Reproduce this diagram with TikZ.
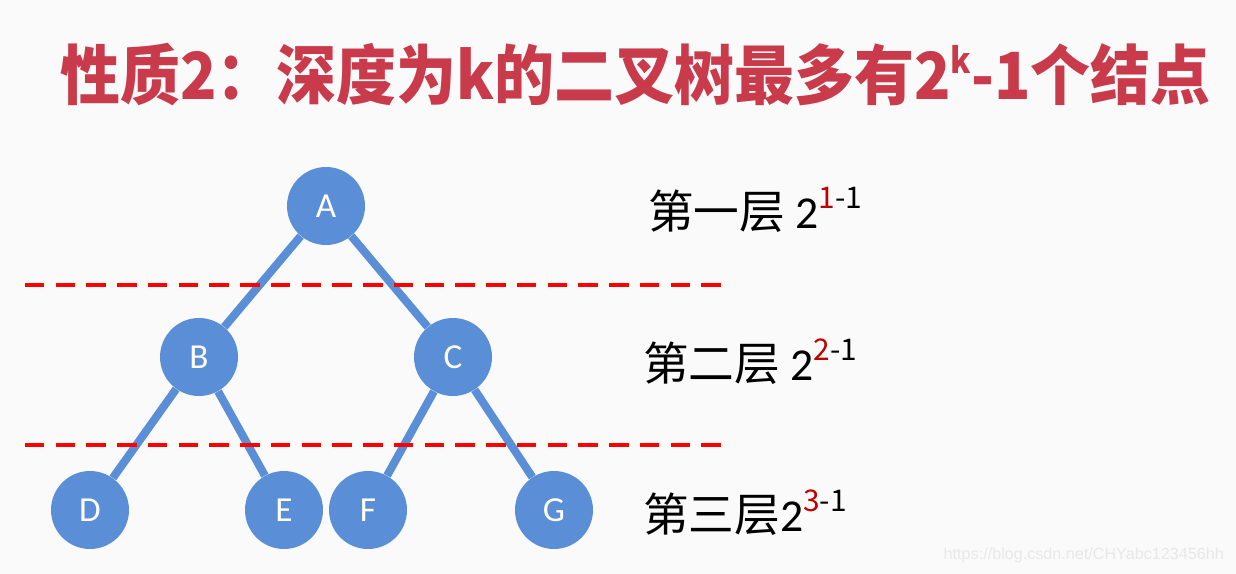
\documentclass[tikz,border=0pt]{standalone}
\usepackage{fontspec}
\usepackage{xcolor}
\usepackage{tikz}
\usetikzlibrary{positioning}
\setmainfont{Carlito}
\newfontfamily\cjk{Noto Sans CJK SC}
\newfontfamily\webfont{Liberation Sans}
\definecolor{nodeblue}{HTML}{5A8ED6}
\definecolor{titlered}{HTML}{C93A4B}
\definecolor{supred}{HTML}{C00000}
\definecolor{bgpaper}{HTML}{FAFAFA}
\newcommand{\lvlpow}[1]{\raisebox{0.8ex}{\fontsize{17}{17}\selectfont\textcolor{supred}{#1}-1}}

\begin{document}
\begin{tikzpicture}[x=0.02cm,y=-0.02cm,
  vertex/.style={circle,fill=nodeblue,minimum size=1.56cm,inner sep=0pt,text=white,font=\fontsize{20}{20}\selectfont},
  edge/.style={draw=nodeblue,line width=4.6pt},
  cut/.style={draw=red,line width=2.6pt,dash pattern=on 11pt off 6.5pt},
  levellabel/.style={anchor=west,font=\cjk\fontsize{26}{26}\selectfont}]
\useasboundingbox[fill=bgpaper] (0,0) rectangle (1236,574);
% title
\node[anchor=west,inner sep=0pt,text=titlered,font=\cjk\bfseries\fontsize{37}{37}\selectfont] (title) at (60,75) {\scalebox{0.922}[1]{性质2：深度为k的二叉树最多有2\raisebox{0.75ex}{\fontsize{20}{20}\selectfont k}-1个结点}};
% tree
\node[vertex] (a) at (326,206) {A};
\node[vertex] (b) at (199,357) {B};
\node[vertex] (c) at (453,357) {C};
\node[vertex] (d) at (90,510) {D};
\node[vertex] (e) at (284,510) {E};
\node[vertex] (f) at (368,510) {F};
\node[vertex] (g) at (554,510) {G};
\foreach \x/\y in {a/b,a/c,b/d,b/e,c/f,c/g}{\draw[edge] (\x)--(\y);}
% level separators
\draw[cut] (25,285) -- (731,285);
\draw[cut] (25,445) -- (731,445);
% level labels
\node[levellabel] (l1) at (642,210) {第一层 {\fontfamily{\rmdefault}\selectfont 2}\lvlpow{1}};
\node[levellabel] (l2) at (637,362) {第二层 {\fontfamily{\rmdefault}\selectfont 2}\lvlpow{2}};
\node[levellabel] (l3) at (637,513) {第三层{\fontfamily{\rmdefault}\selectfont 2}\lvlpow{3}};
% watermark
\node[anchor=east,text=black!9,font=\webfont\fontsize{9.2}{9.2}\selectfont] (mark) at (1230,555) {https://blog.csdn.net/CHYabc123456hh};
\end{tikzpicture}
\end{document}
